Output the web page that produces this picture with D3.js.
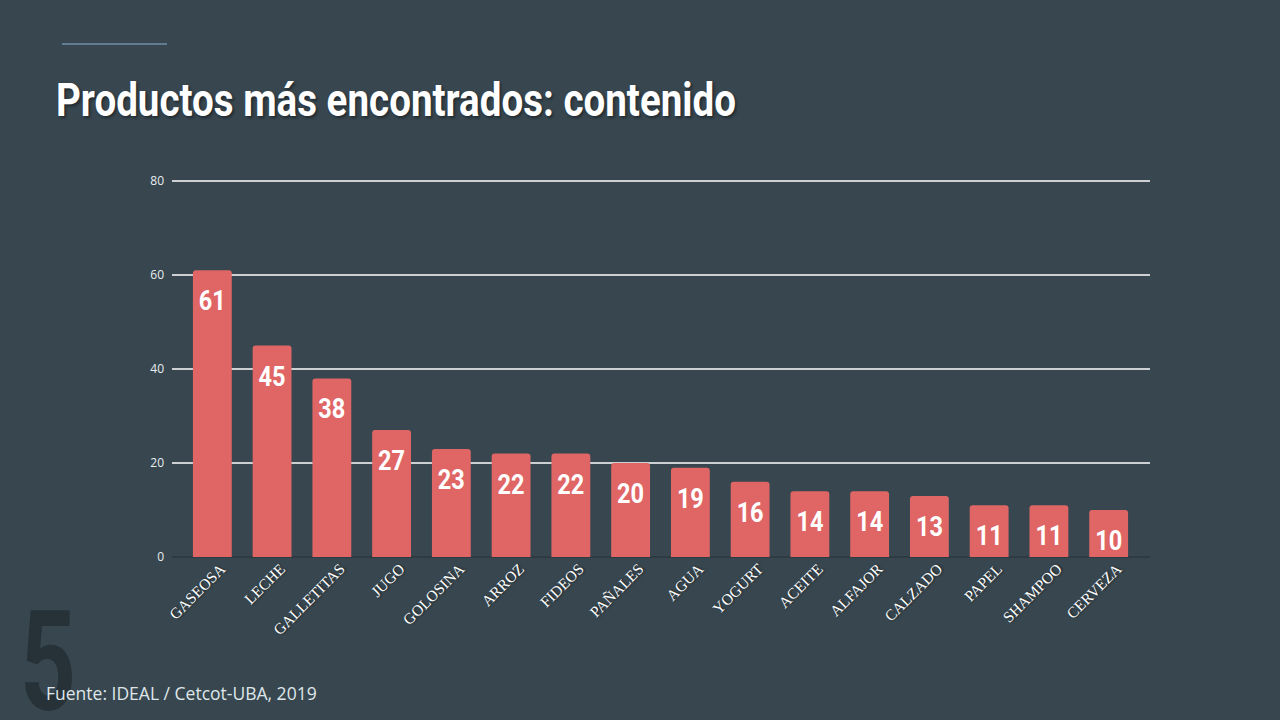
<!DOCTYPE html>
<html><head><meta charset="utf-8">
<script src="https://cdn.jsdelivr.net/npm/d3@7"></script>
<style>
body{margin:0;background:#37464f;overflow:hidden}
</style></head>
<body>
<script>
var data = [
  {name:'GASEOSA',v:61},{name:'LECHE',v:45},{name:'GALLETITAS',v:38},{name:'JUGO',v:27},
  {name:'GOLOSINA',v:23},{name:'ARROZ',v:22},{name:'FIDEOS',v:22},{name:'PAÑALES',v:20},
  {name:'AGUA',v:19},{name:'YOGURT',v:16},{name:'ACEITE',v:14},{name:'ALFAJOR',v:14},
  {name:'CALZADO',v:13},{name:'PAPEL',v:11},{name:'SHAMPOO',v:11},{name:'CERVEZA',v:10}
];

var svg = d3.select('body').append('svg').attr('width',1280).attr('height',720);

svg.append('line').attr('x1',62).attr('x2',167).attr('y1',44).attr('y2',44)
  .style('stroke','#6f8fa8').style('stroke-width',1.5);

svg.append('text').attr('x',20).attr('y',710).text('5')
  .attr('textLength',56).attr('lengthAdjust','spacingAndGlyphs')
  .style('font-family','Roboto').style('font-weight','bold')
  .style('font-size','140px').style('fill','#263238');

svg.append('text').attr('x',56).attr('y',116).text('Productos más encontrados: contenido')
  .attr('textLength',680).attr('lengthAdjust','spacingAndGlyphs')
  .style('font-family','Roboto').style('font-weight','bold')
  .style('font-size','46px').style('fill','#fff')
  .style('text-shadow','2px 2px 3px rgba(0,0,0,0.4)');

svg.append('text').attr('x',46).attr('y',700).text('Fuente: IDEAL / Cetcot-UBA, 2019')
  .style('font-family','Open Sans').style('font-size','17.5px').style('fill','#dfe6ea');

var x = d3.scaleBand().domain(data.map(d=>d.name)).range([172,1149]).padding(0.35);
var y = d3.scaleLinear().domain([0,80]).range([557,181]);

var grid = svg.append('g').selectAll('g').data(y.ticks(4)).enter().append('g');
grid.append('line').attr('x1',172).attr('x2',1150).attr('y1',d=>y(d)).attr('y2',d=>y(d))
  .style('stroke',d=>d==0?'#2c383f':'#fff').style('stroke-width',1.5);
grid.append('text').attr('x',164).attr('y',d=>y(d)+4).attr('text-anchor','end').text(d=>d)
  .style('font-family','Open Sans').style('font-size','12px').style('fill','#e8eef0');

svg.selectAll('.bar').data(data).enter().append('path')
  .attr('d',function(d){
    var x0=x(d.name), w=x.bandwidth(), t=y(d.v), b=y(0), r=3;
    return 'M'+x0+','+b+'V'+(t+r)+'Q'+x0+','+t+' '+(x0+r)+','+t+'H'+(x0+w-r)+
      'Q'+(x0+w)+','+t+' '+(x0+w)+','+(t+r)+'V'+b+'Z';
  })
  .style('fill','#e06666');

svg.selectAll('.val').data(data).enter().append('text')
  .attr('x',d=>x(d.name)+x.bandwidth()/2).attr('y',d=>y(d.v)+40)
  .attr('text-anchor','middle').text(d=>d.v)
  .attr('textLength',27).attr('lengthAdjust','spacingAndGlyphs')
  .style('font-family','Roboto').style('font-weight','bold')
  .style('font-size','27px').style('fill','#fff');

svg.selectAll('.lab').data(data).enter().append('text')
  .attr('transform',d=>'translate('+(x(d.name)+x.bandwidth()/2+14)+',570) rotate(-45)')
  .attr('text-anchor','end').text(d=>d.name)
  .style('font-family','Liberation Serif').style('font-size','15.5px').style('fill','#fff')
  .style('text-shadow','1px 1px 2px rgba(0,0,0,0.5)');
</script>
</body></html>
